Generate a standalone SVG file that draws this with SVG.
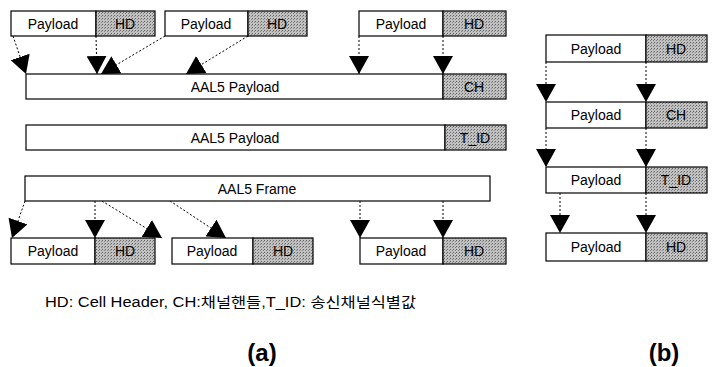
<svg xmlns="http://www.w3.org/2000/svg" width="715" height="367" viewBox="0 0 715 367">
<style>
.box{fill:#fff;stroke:#000;stroke-width:1.2}
.hd{fill:url(#dots);stroke:#000;stroke-width:1.2}
.t{font-family:"Liberation Sans",Arial,sans-serif;font-size:14px;fill:#000;text-anchor:middle;dominant-baseline:central}
.c{stroke:#000;stroke-width:1;stroke-dasharray:2,2;fill:none;marker-end:url(#ah)}
.lbl{font-family:"Liberation Sans",Arial,sans-serif;font-size:24px;font-weight:bold;text-anchor:middle}
.leg{font-family:"Liberation Sans","Noto Sans CJK KR",sans-serif;font-size:14px}
</style>
<defs>
<pattern id="dots" width="3" height="3" patternUnits="userSpaceOnUse">
<rect width="3" height="3" fill="#c0c0c0"/>
<rect width="1" height="1" fill="#666"/>
<rect x="2" y="1" width="1" height="1" fill="#858585"/>
</pattern>
<marker id="ah" markerUnits="userSpaceOnUse" markerWidth="20" markerHeight="20" refX="18" refY="10" orient="auto" viewBox="0 0 20 20">
<path d="M0,0 L18,10 L0,20 z" fill="#000"/>
</marker>
</defs>
<rect width="715" height="367" fill="#fff"/>

<g id="connectors">
<line class="c" x1="13" y1="36" x2="26" y2="74"/>
<line class="c" x1="96" y1="36" x2="97" y2="74"/>
<line class="c" x1="165" y1="36" x2="101" y2="74"/>
<line class="c" x1="248" y1="36" x2="186" y2="74"/>
<line class="c" x1="359" y1="36" x2="359" y2="74"/>
<line class="c" x1="443" y1="36" x2="443" y2="74"/>
<line class="c" x1="25" y1="201" x2="12" y2="238"/>
<line class="c" x1="95" y1="201" x2="95" y2="238"/>
<line class="c" x1="102" y1="201" x2="162" y2="238"/>
<line class="c" x1="170" y1="201" x2="226" y2="238"/>
<line class="c" x1="360" y1="201" x2="360" y2="238"/>
<line class="c" x1="443" y1="201" x2="443" y2="238"/>
<line class="c" x1="546" y1="62" x2="546" y2="102"/>
<line class="c" x1="646" y1="62" x2="646" y2="102"/>
<line class="c" x1="546" y1="128" x2="546" y2="167"/>
<line class="c" x1="646" y1="128" x2="646" y2="167"/>
<line class="c" x1="560" y1="193" x2="560" y2="233"/>
<line class="c" x1="646" y1="193" x2="646" y2="233"/>
</g>

<g id="top-cell-1">
<rect class="box" x="11" y="11" width="85" height="25"/>
<rect class="hd" x="96" y="11" width="59" height="25"/>
<text class="t" x="53" y="23.5">Payload</text>
<text class="t" x="125" y="23.5">HD</text>
</g>
<g id="top-cell-2">
<rect class="box" x="165" y="11" width="83" height="25"/>
<rect class="hd" x="248" y="11" width="59" height="25"/>
<text class="t" x="206" y="23.5">Payload</text>
<text class="t" x="277" y="23.5">HD</text>
</g>
<g id="top-cell-3">
<rect class="box" x="359" y="11" width="84" height="25"/>
<rect class="hd" x="443" y="11" width="63" height="25"/>
<text class="t" x="401" y="23.5">Payload</text>
<text class="t" x="474" y="23.5">HD</text>
</g>

<g id="aal5-payload-ch">
<rect class="box" x="26" y="74" width="417" height="25"/>
<rect class="hd" x="443" y="74" width="63" height="25"/>
<text class="t" x="235" y="86.5">AAL5 Payload</text>
<text class="t" x="474" y="86.5">CH</text>
</g>

<g id="aal5-payload-tid">
<rect class="box" x="26" y="125" width="419" height="25"/>
<rect class="hd" x="445" y="125" width="61" height="25"/>
<text class="t" x="235" y="137.5">AAL5 Payload</text>
<text class="t" x="475" y="137.5">T_ID</text>
</g>

<g id="aal5-frame">
<rect class="box" x="25" y="176" width="465" height="25"/>
<text class="t" x="257" y="188.5">AAL5 Frame</text>
</g>

<g id="bottom-cell-1">
<rect class="box" x="11" y="238" width="84" height="26"/>
<rect class="hd" x="95" y="238" width="60" height="26"/>
<text class="t" x="53" y="251">Payload</text>
<text class="t" x="125" y="251">HD</text>
</g>
<g id="bottom-cell-2">
<rect class="box" x="172" y="238" width="81" height="26"/>
<rect class="hd" x="253" y="238" width="60" height="26"/>
<text class="t" x="212" y="251">Payload</text>
<text class="t" x="283" y="251">HD</text>
</g>
<g id="bottom-cell-3">
<rect class="box" x="360" y="238" width="83" height="26"/>
<rect class="hd" x="443" y="238" width="63" height="26"/>
<text class="t" x="401" y="251">Payload</text>
<text class="t" x="474" y="251">HD</text>
</g>

<g id="b-cell-1">
<rect class="box" x="546" y="35" width="100" height="27"/>
<rect class="hd" x="646" y="35" width="61" height="27"/>
<text class="t" x="596" y="48.5">Payload</text>
<text class="t" x="676" y="48.5">HD</text>
</g>
<g id="b-cell-2">
<rect class="box" x="546" y="102" width="100" height="26"/>
<rect class="hd" x="646" y="102" width="61" height="26"/>
<text class="t" x="596" y="115">Payload</text>
<text class="t" x="676" y="115">CH</text>
</g>
<g id="b-cell-3">
<rect class="box" x="546" y="167" width="100" height="26"/>
<rect class="hd" x="646" y="167" width="61" height="26"/>
<text class="t" x="596" y="180">Payload</text>
<text class="t" x="676" y="180">T_ID</text>
</g>
<g id="b-cell-4">
<rect class="box" x="546" y="233" width="100" height="28"/>
<rect class="hd" x="646" y="233" width="61" height="28"/>
<text class="t" x="596" y="247">Payload</text>
<text class="t" x="676" y="247">HD</text>
</g>

<g id="legend">
<text class="leg" x="45" y="307" textLength="371" lengthAdjust="spacingAndGlyphs">HD: Cell Header,  CH:채널핸들,T_ID: 송신채널식별값</text>
</g>
<g id="label-a"><text class="lbl" x="262" y="361">(a)</text></g>
<g id="label-b"><text class="lbl" x="664" y="361">(b)</text></g>
</svg>
